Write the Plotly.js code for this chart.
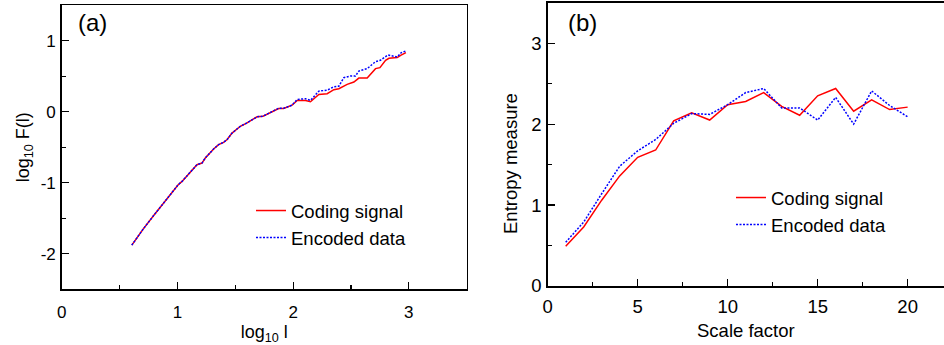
<!DOCTYPE html>
<html>
<head>
<meta charset="utf-8">
<script src="https://cdn.plot.ly/plotly-3.0.1.min.js"></script>
<style>html,body{margin:0;padding:0;background:#fff}#chart{width:944px;height:345px}</style>
</head>
<body>
<div id="chart"></div>
<script>
// Panel (a): DFA curves
const aCodingX = [0.606,0.707,0.800,0.910,0.952,1.005,1.040,1.096,1.169,1.212,1.241,1.313,1.356,1.399,1.430,1.472,1.544,1.602,1.640,1.688,1.740,1.803,1.875,1.918,1.991,2.035,2.107,2.150,2.222,2.294,2.352,2.395,2.467,2.525,2.568,2.640,2.712,2.750,2.799,2.828,2.900,2.929,2.975];
const aCodingY = [-1.877,-1.645,-1.450,-1.220,-1.130,-1.030,-0.980,-0.880,-0.745,-0.722,-0.651,-0.523,-0.463,-0.430,-0.390,-0.300,-0.204,-0.156,-0.120,-0.071,-0.062,-0.014,0.047,0.047,0.093,0.160,0.160,0.141,0.245,0.255,0.311,0.325,0.386,0.419,0.475,0.475,0.608,0.622,0.726,0.754,0.764,0.796,0.834];
const aEncodedX = [0.606,0.707,0.800,0.910,0.952,1.005,1.040,1.096,1.169,1.212,1.241,1.313,1.356,1.399,1.430,1.472,1.544,1.602,1.640,1.688,1.740,1.803,1.875,1.918,1.991,2.035,2.107,2.150,2.222,2.294,2.352,2.395,2.438,2.496,2.539,2.568,2.640,2.712,2.755,2.819,2.900,2.935,2.975];
const aEncodedY = [-1.877,-1.645,-1.450,-1.220,-1.130,-1.030,-0.980,-0.880,-0.745,-0.722,-0.651,-0.523,-0.463,-0.430,-0.390,-0.300,-0.204,-0.156,-0.120,-0.071,-0.062,-0.014,0.050,0.050,0.093,0.174,0.184,0.160,0.291,0.305,0.353,0.360,0.481,0.504,0.504,0.574,0.608,0.707,0.726,0.800,0.772,0.834,0.857];

// Panel (b): multiscale entropy
const scaleFactor = [1,2,3,4,5,6,7,8,9,10,11,12,13,14,15,16,17,18,19,20];
const bCoding  = [0.49,0.73,1.06,1.36,1.59,1.68,2.04,2.14,2.05,2.24,2.28,2.39,2.22,2.11,2.35,2.44,2.16,2.30,2.18,2.21];
const bEncoded = [0.54,0.79,1.14,1.48,1.67,1.81,2.01,2.13,2.12,2.24,2.39,2.44,2.20,2.20,2.05,2.33,2.00,2.41,2.23,2.09];

const aXTicks = [0,1,2,3];
const aXLabels = ['0','1','2','3'];
const aYTicks = [-2,-1,0,1];
const aYLabels = ['-2','-1','0','1'];
const bXTicks = [0,5,10,15,20];
const bXLabels = ['0','5','10','15','20'];
const bYTicks = [0,1,2,3];
const bYLabels = ['0','1','2','3'];

const names = ['Coding signal','Encoded data'];
const FONT = 'Arial, "Liberation Sans", sans-serif';
const W = 944, H = 345;
const px = v => v / W, py = v => 1 - v / H;

const red = '#ff0000', blue = '#0000ff';

const traces = [
  {x: aCodingX, y: aCodingY, name: names[0], type: 'scatter', mode: 'lines', xaxis: 'x', yaxis: 'y', legend: 'legend',
   line: {color: red, width: 1.5}},
  {x: aEncodedX, y: aEncodedY, name: names[1], type: 'scatter', mode: 'lines', xaxis: 'x', yaxis: 'y', legend: 'legend',
   line: {color: blue, width: 1.5, dash: '2px,1.5px'}},
  {x: scaleFactor, y: bCoding, name: names[0], type: 'scatter', mode: 'lines', xaxis: 'x2', yaxis: 'y2', legend: 'legend2',
   line: {color: red, width: 1.5}},
  {x: scaleFactor, y: bEncoded, name: names[1], type: 'scatter', mode: 'lines', xaxis: 'x2', yaxis: 'y2', legend: 'legend2',
   line: {color: blue, width: 1.5, dash: '2px,1.5px'}}
];

const axBase = {
  showgrid: false, zeroline: false, showline: true, linecolor: '#000', linewidth: 1.5,
  ticks: 'inside', ticklen: 7.5, tickwidth: 1.2, tickcolor: '#000',
  fixedrange: true
};
const minorTicks = d => ({dtick: d, tick0: 0, ticks: 'inside', ticklen: 4.5, tickwidth: 1.2, tickcolor: '#000', showgrid: false});

const layout = {
  width: W, height: H,
  margin: {l: 0, r: 0, t: 0, b: 0},
  paper_bgcolor: '#fff', plot_bgcolor: '#fff',
  font: {family: FONT, color: '#000'},
  showlegend: true,
  xaxis: Object.assign({}, axBase, {
    domain: [px(61.7), px(466.7)], range: [0, 3.5], anchor: 'y', mirror: true,
    tickmode: 'array', tickvals: aXTicks, ticktext: aXLabels, tickfont: {size: 17}, ticklabelstandoff: 7,
    minor: minorTicks(0.5),
    title: {text: 'log<sub>10</sub> l', font: {size: 18}, standoff: 5}
  }),
  yaxis: Object.assign({}, axBase, {
    domain: [py(289.3), py(5.3)], range: [-2.5, 1.5], anchor: 'x', mirror: true,
    tickmode: 'array', tickvals: aYTicks, ticktext: aYLabels, tickfont: {size: 17}, ticklabelstandoff: 1,
    minor: minorTicks(0.5),
    title: {text: 'log<sub>10</sub> F(l)', font: {size: 18}, standoff: 6}
  }),
  xaxis2: Object.assign({}, axBase, {
    domain: [px(547.7), 1], range: [0, 22.02], anchor: 'y2', mirror: true,
    tickmode: 'array', tickvals: bXTicks, ticktext: bXLabels, tickfont: {size: 18.5}, ticklabelstandoff: 3,
    minor: minorTicks(2.5),
    title: {text: 'Scale factor', font: {size: 18.5}, standoff: 8}
  }),
  yaxis2: Object.assign({}, axBase, {
    domain: [py(286), py(2.7)], range: [0, 3.5], anchor: 'x2', mirror: false,
    tickmode: 'array', tickvals: bYTicks, ticktext: bYLabels, tickfont: {size: 18.5}, ticklabelstandoff: 1,
    minor: minorTicks(0.5)
  }),
  legend: {x: px(251), y: py(192), xanchor: 'left', yanchor: 'top', bgcolor: 'rgba(0,0,0,0)',
           borderwidth: 0, font: {size: 18.5, family: FONT}, tracegroupgap: 0},
  legend2: {x: px(731), y: py(179), xanchor: 'left', yanchor: 'top', bgcolor: 'rgba(0,0,0,0)',
           borderwidth: 0, font: {size: 18.5, family: FONT}, tracegroupgap: 0},
  annotations: [
    {text: '(a)', xref: 'paper', yref: 'paper', x: px(92), y: py(23), xanchor: 'center', yanchor: 'middle',
     showarrow: false, font: {size: 24, family: FONT}},
    {text: '(b)', xref: 'paper', yref: 'paper', x: px(582.5), y: py(23), xanchor: 'center', yanchor: 'middle',
     showarrow: false, font: {size: 24, family: FONT}},
    {text: 'Entropy measure', xref: 'paper', yref: 'paper', x: px(510), y: py(164), xanchor: 'center', yanchor: 'middle',
     textangle: -90, showarrow: false, font: {size: 18.5, family: FONT}}
  ]
};

Plotly.newPlot('chart', traces, layout, {staticPlot: true, displayModeBar: false});
</script>
</body>
</html>
